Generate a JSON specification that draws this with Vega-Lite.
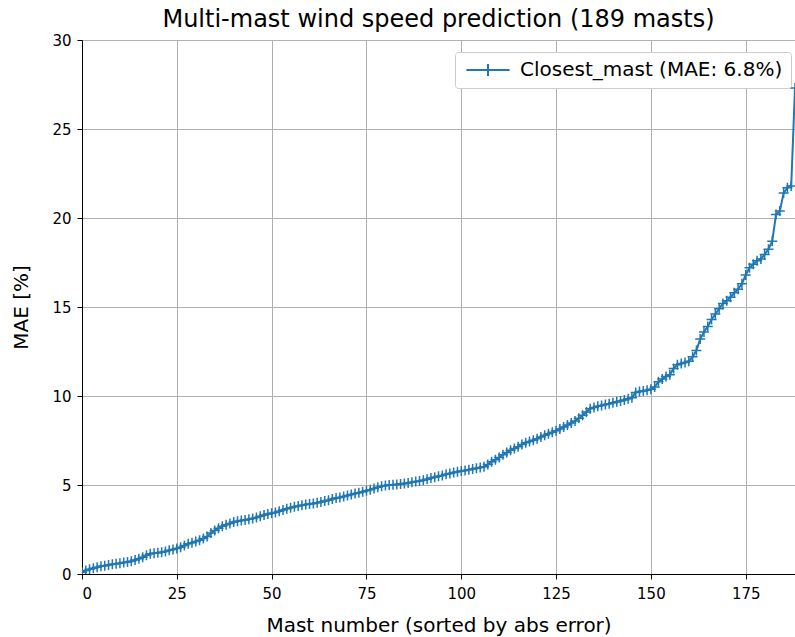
{
  "$schema": "https://vega.github.io/schema/vega-lite/v6.json",
  "autosize": {"type": "none"},
  "padding": {"left": 82, "top": 40, "right": 0, "bottom": 63},
  "width": 713,
  "height": 534,
  "background": "white",
  "config": {
    "font": "DejaVu Sans",
    "view": {"stroke": "black", "strokeWidth": 1},
    "axis": {
      "labelFont": "DejaVu Sans", "titleFont": "DejaVu Sans",
      "labelFontSize": 15, "titleFontSize": 20,
      "labelColor": "black", "titleColor": "black",
      "titleFontWeight": "normal",
      "tickColor": "black", "tickSize": 5, "tickWidth": 1,
      "domainColor": "black",
      "gridColor": "#b0b0b0", "gridWidth": 1
    },
    "title": {"font": "DejaVu Sans", "fontSize": 24, "fontWeight": "normal", "color": "black", "offset": 1}
  },
  "title": "Multi-mast wind speed prediction (189 masts)",
  "data": {"values": [
    {"mast": 0, "mae": 0.1}, {"mast": 1, "mae": 0.2}, {"mast": 2, "mae": 0.27}, {"mast": 3, "mae": 0.32}, {"mast": 4, "mae": 0.38},
    {"mast": 5, "mae": 0.43}, {"mast": 6, "mae": 0.47}, {"mast": 7, "mae": 0.51}, {"mast": 8, "mae": 0.55}, {"mast": 9, "mae": 0.58},
    {"mast": 10, "mae": 0.61}, {"mast": 11, "mae": 0.64}, {"mast": 12, "mae": 0.68}, {"mast": 13, "mae": 0.72}, {"mast": 14, "mae": 0.78},
    {"mast": 15, "mae": 0.86}, {"mast": 16, "mae": 0.94}, {"mast": 17, "mae": 1.05}, {"mast": 18, "mae": 1.14}, {"mast": 19, "mae": 1.17},
    {"mast": 20, "mae": 1.19}, {"mast": 21, "mae": 1.22}, {"mast": 22, "mae": 1.27}, {"mast": 23, "mae": 1.33}, {"mast": 24, "mae": 1.38},
    {"mast": 25, "mae": 1.43}, {"mast": 26, "mae": 1.5}, {"mast": 27, "mae": 1.6}, {"mast": 28, "mae": 1.7}, {"mast": 29, "mae": 1.76},
    {"mast": 30, "mae": 1.82}, {"mast": 31, "mae": 1.9}, {"mast": 32, "mae": 2.0}, {"mast": 33, "mae": 2.1}, {"mast": 34, "mae": 2.3},
    {"mast": 35, "mae": 2.45}, {"mast": 36, "mae": 2.57}, {"mast": 37, "mae": 2.68}, {"mast": 38, "mae": 2.76}, {"mast": 39, "mae": 2.84},
    {"mast": 40, "mae": 2.92}, {"mast": 41, "mae": 2.96}, {"mast": 42, "mae": 3.0}, {"mast": 43, "mae": 3.04}, {"mast": 44, "mae": 3.08},
    {"mast": 45, "mae": 3.12}, {"mast": 46, "mae": 3.17}, {"mast": 47, "mae": 3.24}, {"mast": 48, "mae": 3.31}, {"mast": 49, "mae": 3.37},
    {"mast": 50, "mae": 3.41}, {"mast": 51, "mae": 3.46}, {"mast": 52, "mae": 3.53}, {"mast": 53, "mae": 3.6}, {"mast": 54, "mae": 3.66},
    {"mast": 55, "mae": 3.72}, {"mast": 56, "mae": 3.78}, {"mast": 57, "mae": 3.82}, {"mast": 58, "mae": 3.86}, {"mast": 59, "mae": 3.9},
    {"mast": 60, "mae": 3.93}, {"mast": 61, "mae": 3.96}, {"mast": 62, "mae": 4.0}, {"mast": 63, "mae": 4.05}, {"mast": 64, "mae": 4.1},
    {"mast": 65, "mae": 4.15}, {"mast": 66, "mae": 4.22}, {"mast": 67, "mae": 4.27}, {"mast": 68, "mae": 4.3}, {"mast": 69, "mae": 4.35},
    {"mast": 70, "mae": 4.41}, {"mast": 71, "mae": 4.47}, {"mast": 72, "mae": 4.52}, {"mast": 73, "mae": 4.56}, {"mast": 74, "mae": 4.62},
    {"mast": 75, "mae": 4.68}, {"mast": 76, "mae": 4.74}, {"mast": 77, "mae": 4.81}, {"mast": 78, "mae": 4.88}, {"mast": 79, "mae": 4.93},
    {"mast": 80, "mae": 4.97}, {"mast": 81, "mae": 5.0}, {"mast": 82, "mae": 5.01}, {"mast": 83, "mae": 5.03}, {"mast": 84, "mae": 5.05},
    {"mast": 85, "mae": 5.08}, {"mast": 86, "mae": 5.11}, {"mast": 87, "mae": 5.15}, {"mast": 88, "mae": 5.19}, {"mast": 89, "mae": 5.22},
    {"mast": 90, "mae": 5.27}, {"mast": 91, "mae": 5.33}, {"mast": 92, "mae": 5.39}, {"mast": 93, "mae": 5.44}, {"mast": 94, "mae": 5.49},
    {"mast": 95, "mae": 5.54}, {"mast": 96, "mae": 5.6}, {"mast": 97, "mae": 5.65}, {"mast": 98, "mae": 5.7}, {"mast": 99, "mae": 5.74},
    {"mast": 100, "mae": 5.78}, {"mast": 101, "mae": 5.82}, {"mast": 102, "mae": 5.86}, {"mast": 103, "mae": 5.9}, {"mast": 104, "mae": 5.94},
    {"mast": 105, "mae": 5.98}, {"mast": 106, "mae": 6.03}, {"mast": 107, "mae": 6.15}, {"mast": 108, "mae": 6.3}, {"mast": 109, "mae": 6.42},
    {"mast": 110, "mae": 6.55}, {"mast": 111, "mae": 6.7}, {"mast": 112, "mae": 6.82}, {"mast": 113, "mae": 6.95}, {"mast": 114, "mae": 7.05},
    {"mast": 115, "mae": 7.15}, {"mast": 116, "mae": 7.28}, {"mast": 117, "mae": 7.38}, {"mast": 118, "mae": 7.45}, {"mast": 119, "mae": 7.52},
    {"mast": 120, "mae": 7.6}, {"mast": 121, "mae": 7.7}, {"mast": 122, "mae": 7.8}, {"mast": 123, "mae": 7.88}, {"mast": 124, "mae": 7.96},
    {"mast": 125, "mae": 8.05}, {"mast": 126, "mae": 8.15}, {"mast": 127, "mae": 8.26}, {"mast": 128, "mae": 8.37}, {"mast": 129, "mae": 8.48},
    {"mast": 130, "mae": 8.6}, {"mast": 131, "mae": 8.75}, {"mast": 132, "mae": 8.92}, {"mast": 133, "mae": 9.1}, {"mast": 134, "mae": 9.28},
    {"mast": 135, "mae": 9.36}, {"mast": 136, "mae": 9.42}, {"mast": 137, "mae": 9.47}, {"mast": 138, "mae": 9.52}, {"mast": 139, "mae": 9.57},
    {"mast": 140, "mae": 9.62}, {"mast": 141, "mae": 9.67}, {"mast": 142, "mae": 9.72}, {"mast": 143, "mae": 9.77}, {"mast": 144, "mae": 9.85},
    {"mast": 145, "mae": 9.9}, {"mast": 146, "mae": 10.2}, {"mast": 147, "mae": 10.25}, {"mast": 148, "mae": 10.28}, {"mast": 149, "mae": 10.32},
    {"mast": 150, "mae": 10.38}, {"mast": 151, "mae": 10.5}, {"mast": 152, "mae": 10.8}, {"mast": 153, "mae": 10.95}, {"mast": 154, "mae": 11.1},
    {"mast": 155, "mae": 11.2}, {"mast": 156, "mae": 11.55}, {"mast": 157, "mae": 11.75}, {"mast": 158, "mae": 11.82}, {"mast": 159, "mae": 11.88},
    {"mast": 160, "mae": 11.95}, {"mast": 161, "mae": 12.2}, {"mast": 162, "mae": 12.55}, {"mast": 163, "mae": 13.2}, {"mast": 164, "mae": 13.6},
    {"mast": 165, "mae": 13.9}, {"mast": 166, "mae": 14.3}, {"mast": 167, "mae": 14.6}, {"mast": 168, "mae": 14.9}, {"mast": 169, "mae": 15.2},
    {"mast": 170, "mae": 15.35}, {"mast": 171, "mae": 15.55}, {"mast": 172, "mae": 15.8}, {"mast": 173, "mae": 16.0}, {"mast": 174, "mae": 16.3},
    {"mast": 175, "mae": 16.8}, {"mast": 176, "mae": 17.2}, {"mast": 177, "mae": 17.4}, {"mast": 178, "mae": 17.6}, {"mast": 179, "mae": 17.7},
    {"mast": 180, "mae": 17.95}, {"mast": 181, "mae": 18.25}, {"mast": 182, "mae": 18.7}, {"mast": 183, "mae": 20.2}, {"mast": 184, "mae": 20.4},
    {"mast": 185, "mae": 21.4}, {"mast": 186, "mae": 21.7}, {"mast": 187, "mae": 21.8}, {"mast": 188, "mae": 27.3}
  ]},
  "transform": [{"calculate": "'Closest_mast (MAE: 6.8%)'", "as": "series"}],
  "mark": {
    "type": "line",
    "strokeWidth": 2,
    "clip": true,
    "point": {"shape": "M-1,0L1,0M0,-1L0,1", "filled": false, "size": 100, "strokeWidth": 1.5}
  },
  "encoding": {
    "x": {"field": "mast", "type": "quantitative", "title": "Mast number (sorted by abs error)",
          "scale": {"domain": [0, 188], "nice": false, "zero": false},
          "axis": {"values": [0, 25, 50, 75, 100, 125, 150, 175], "labelPadding": 7, "titlePadding": 14}},
    "y": {"field": "mae", "type": "quantitative", "title": "MAE [%]",
          "scale": {"domain": [0, 30], "nice": false},
          "axis": {"values": [0, 5, 10, 15, 20, 25, 30], "labelPadding": 6, "titlePadding": 20}},
    "color": {"field": "series", "type": "nominal", "scale": {"range": ["#1f77b4"]},
              "legend": {"title": null, "orient": "none", "legendX": 373, "legendY": 12,
                         "labelFontSize": 20, "labelFont": "DejaVu Sans", "labelColor": "black", "labelLimit": 500,
                         "symbolType": "M-3.6,0L3.6,0M0,-1L0,1", "symbolSize": 144, "symbolStrokeWidth": 2,
                         "symbolOffset": 15,
                         "symbolFillColor": "transparent", "symbolStrokeColor": "#1f77b4",
                         "fillColor": "white", "strokeColor": "#cccccc", "cornerRadius": 3, "padding": 8,
                         "labelOffset": 22}}
  }
}
